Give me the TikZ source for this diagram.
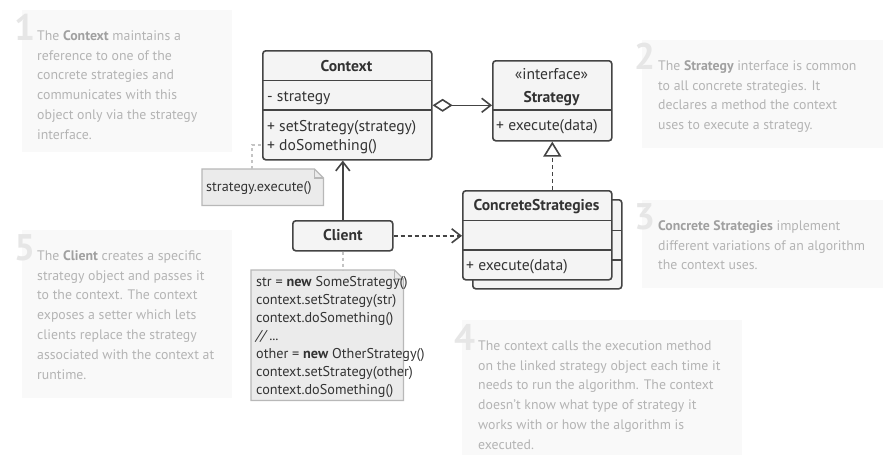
\documentclass[tikz,border=0pt]{standalone}
\usepackage{fontspec}
\setmainfont{PT Sans}
\usetikzlibrary{arrows.meta}
\definecolor{boxc}{HTML}{444444}
\definecolor{boxfill}{HTML}{F4F4F4}
\definecolor{txtc}{HTML}{333333}
\definecolor{notefill}{HTML}{F9F9F9}
\definecolor{notetxt}{HTML}{B4B4B4}
\definecolor{notebold}{HTML}{A0A0A0}
\definecolor{numc}{HTML}{E6E6E6}
\definecolor{codefill}{HTML}{EBEBEB}
\definecolor{codeborder}{HTML}{B8B8B8}
\definecolor{dotc}{HTML}{C4C4C4}
\newcommand{\nb}[1]{\textbf{\color{notebold}#1}}
\begin{document}
\begin{tikzpicture}[x=1pt,y=-1pt,
  umlbox/.style={draw=boxc, line width=1.6pt, fill=boxfill, rounded corners=3pt, inner sep=0, anchor=north west},
  divline/.style={draw=boxc, line width=1.6pt},
  boxtxt/.style={font=\fontsize{15.6}{19}\selectfont, text=txtc, inner sep=0},
  notebg/.style={fill=notefill, draw=none, inner sep=0, anchor=north west},
  notetext/.style={font=\fontsize{13.8}{19.8}\selectfont, text=notetxt, align=left, anchor=north west, inner sep=0},
  numtxt/.style={font=\fontsize{37}{37}\selectfont\bfseries, text=numc, anchor=base west, inner sep=0},
  conn/.style={draw=boxc, line width=1.6pt},
  dashconn/.style={conn, dash pattern=on 4pt off 3pt},
  dotline/.style={draw=dotc, line width=1.4pt, dash pattern=on 3pt off 3pt},
  codetxt/.style={font=\fontsize{14.2}{18}\selectfont, text=txtc, align=left, anchor=north west, inner sep=0},
  opentip/.style={Straight Barb[length=9pt,width=14pt,line width=1.6pt]}
]
\useasboundingbox (0,0) rectangle (885,455);
\fill[white] (0,0) rectangle (885,455);

% ---------- notes ----------
\node[notebg, minimum width=210, minimum height=142] (n1) at (22,10) {};
\node[numtxt] (n1num) at (14,40) {1};
\node[notetext] (n1t) at (37,28) {\rule{0pt}{12pt}The \nb{Context} maintains a\\reference to one of the\\concrete strategies and\\communicates with this\\object only via the strategy\\interface.};

\node[notebg, minimum width=241, minimum height=108] (n2) at (642,40) {};
\node[numtxt] (n2num) at (634,69) {2};
\node[notetext] (n2t) at (658,58) {\rule{0pt}{12pt}The \nb{Strategy} interface is common\\to all concrete strategies. It\\declares a method the context\\uses to execute a strategy.};

\node[notebg, minimum width=241, minimum height=88] (n3) at (642,200) {};
\node[numtxt] (n3num) at (634,229) {3};
\node[notetext] (n3t) at (658,218) {\rule{0pt}{12pt}\nb{Concrete Strategies} implement\\different variations of an algorithm\\the context uses.};

\node[notebg, minimum width=280, minimum height=135] (n4) at (462,320) {};
\node[numtxt] (n4num) at (454,350) {4};
\node[notetext] (n4t) at (478,338) {\rule{0pt}{12pt}The context calls the execution method\\on the linked strategy object each time it\\needs to run the algorithm. The context\\doesn't know what type of strategy it\\works with or how the algorithm is\\executed.};

\node[notebg, minimum width=210, minimum height=168] (n5) at (22,230) {};
\node[numtxt] (n5num) at (14,260) {5};
\node[notetext] (n5t) at (37,248) {\rule{0pt}{12pt}The \nb{Client} creates a specific\\strategy object and passes it\\to the context. The context\\exposes a setter which lets\\clients replace the strategy\\associated with the context at\\runtime.};

% ---------- Context ----------
\node[umlbox, minimum width=169, minimum height=109] (ctx) at (262,50) {};
\draw[divline] (262,80.5) -- (431,80.5);
\draw[divline] (262,110) -- (431,110);
\node[boxtxt, anchor=base] (ctxT) at (346.5,71) {\bfseries Context};
\node[boxtxt, anchor=base west] (ctxA) at (267,101) {- strategy};
\node[boxtxt, anchor=base west] (ctxM1) at (267,131.5) {+ setStrategy(strategy)};
\node[boxtxt, anchor=base west] (ctxM2) at (267,150.5) {+ doSomething()};

% ---------- Strategy ----------
\node[umlbox, minimum width=119, minimum height=80] (strat) at (492,60) {};
\draw[divline] (492,110) -- (611,110);
\node[boxtxt, anchor=base] (stratS) at (551.5,79) {«interface»};
\node[boxtxt, anchor=base] (stratT) at (551.5,102.5) {\bfseries Strategy};
\node[boxtxt, anchor=base west] (stratM) at (496,130.5) {+ execute(data)};

% ---------- ConcreteStrategies ----------
\node[umlbox, minimum width=149, minimum height=89] (csback) at (472,199) {};
\draw[divline] (472,230.5) -- (621,230.5);
\draw[divline] (472,260) -- (621,260);
\node[umlbox, minimum width=149, minimum height=89] (cs) at (462,190) {};
\draw[divline] (462,220.5) -- (611,220.5);
\draw[divline] (462,250) -- (611,250);
\node[boxtxt, anchor=base] (csT) at (536.5,210.5) {\bfseries ConcreteStrategies};
\node[boxtxt, anchor=base west] (csM) at (466,270.5) {+ execute(data)};

% ---------- Client ----------
\node[umlbox, minimum width=100, minimum height=30] (cli) at (292,220) {};
\node[boxtxt, anchor=base] (cliT) at (cli.center |- 0,240) {\bfseries Client};

% ---------- notes with code ----------
\node[inner sep=0, anchor=north west, minimum width=121, minimum height=36] (exn) at (202,169) {};
\draw[draw=codeborder, fill=codefill, line width=1.2pt]
  (exn.north west) -- ([xshift=-9pt]exn.north east) -- ([yshift=-9pt]exn.north east) -- (exn.south east) -- (exn.south west) -- cycle;
\draw[draw=codeborder, line width=1.2pt] ([xshift=-9pt]exn.north east) |- ([yshift=-9pt]exn.north east);
\node[boxtxt, font=\fontsize{14.2}{18}\selectfont, anchor=base west] (exnT) at (206,191.5) {strategy.execute()};

\node[inner sep=0, anchor=north west, minimum width=152, minimum height=130] (code) at (251,270) {};
\draw[draw=codeborder, fill=codefill, line width=1.2pt]
  (code.north west) -- ([xshift=-9pt]code.north east) -- ([yshift=-9pt]code.north east) -- (code.south east) -- (code.south west) -- cycle;
\draw[draw=codeborder, line width=1.2pt] ([xshift=-9pt]code.north east) |- ([yshift=-9pt]code.north east);
\node[codetxt] (codeT) at (256,274) {\rule{0pt}{12pt}str = \textbf{new} SomeStrategy()\\context.setStrategy(str)\\context.doSomething()\\\textit{// ...}\\other = \textbf{new} OtherStrategy()\\context.setStrategy(other)\\context.doSomething()};

% ---------- connectors ----------
\draw[conn, {Diamond[open,length=20pt,width=13pt,line width=1.6pt]}-{Straight Barb[length=9pt,width=14pt,line width=1.6pt]}]
  (ctx.east) -- (ctx.east -| strat.west);
\draw[conn, -{Straight Barb[length=9pt,width=14pt,line width=1.6pt]}]
  (cli.north) -- (cli.north |- ctx.south);
\draw[dashconn, -{Straight Barb[length=9pt,width=14pt,line width=1.6pt]}]
  (cli.east) -- (cli.east -| cs.west);
\draw[dashconn, -{Triangle[open,length=15pt,width=18pt,line width=1.6pt]}]
  (strat.south |- cs.north) -- (strat.south);
\coordinate (exa) at (252,169);
\draw[dotline] (exa) |- (ctx.west |- 0,145);
\draw[dotline] (cli.south) -- (cli.south |- code.north);
\end{tikzpicture}
\end{document}
